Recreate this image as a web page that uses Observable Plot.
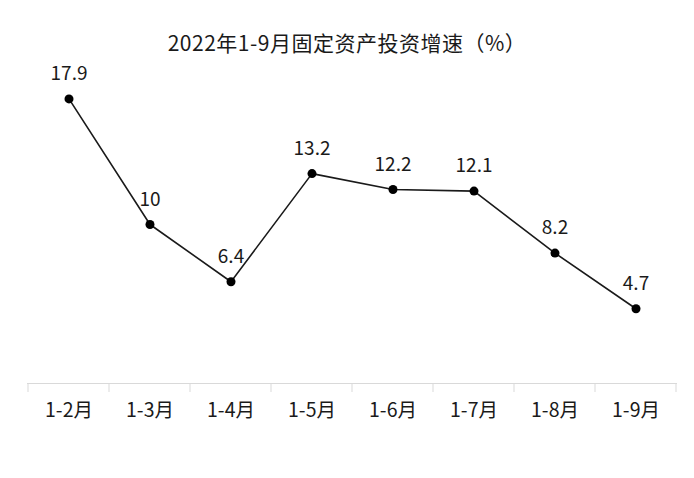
<!DOCTYPE html>
<html><head><meta charset="utf-8">
<script src="https://cdn.jsdelivr.net/npm/d3@7"></script>
<script src="https://cdn.jsdelivr.net/npm/@observablehq/plot@0.6"></script>
<style>
html,body{margin:0;padding:0;background:#fff;}
#wrap{position:relative;width:694px;height:478px;}
#title{position:absolute;left:0;top:29px;width:694px;text-align:center;font-family:"Noto Sans CJK SC",sans-serif;font-size:21px;color:#1a1a1a;line-height:26px;letter-spacing:0.5px;}
</style></head>
<body>
<div id="wrap"><div id="title">2022年1-9月固定资产投资增速（%）</div><div id="chart"></div></div>
<script>
const categories = ["1-2月","1-3月","1-4月","1-5月","1-6月","1-7月","1-8月","1-9月"];
const values = [17.9, 10, 6.4, 13.2, 12.2, 12.1, 8.2, 4.7];
const labels = ["17.9","10","6.4","13.2","12.2","12.1","8.2","4.7"];
const data = categories.map((c,i)=>({cat:c, v:values[i], label:labels[i]}));
const font = '"Noto Sans CJK SC", sans-serif';
const plot = Plot.plot({
  width: 694, height: 478,
  marginLeft: 27, marginRight: 17, marginTop: 65, marginBottom: 95,
  style: {fontFamily: font, background: "#fff"},
  x: {type: "band", domain: categories, padding: 0, axis: null},
  y: {domain: [0, 20], axis: null},
  marks: [
    Plot.ruleY([0], {stroke: "#d9d9d9", strokeWidth: 1}),
    Plot.line(data, {x: "cat", y: "v", stroke: "#1a1a1a", strokeWidth: 1.6}),
    Plot.dot(data, {x: "cat", y: "v", r: 4.5, fill: "#000", stroke: "none"}),
    Plot.text(data, {x: "cat", y: "v", text: "label", dy: -25, lineAnchor: "middle", fontSize: 19, fill: "#1a1a1a"}),
    Plot.text(data, {x: "cat", text: "cat", frameAnchor: "bottom", dy: 27, lineAnchor: "middle", fontSize: 19.5, fill: "#1a1a1a"})
  ]
});
document.getElementById("chart").appendChild(plot);
const xs = plot.scale("x"), ys = plot.scale("y");
const y0 = ys.apply(0);
const edges = categories.map(c => xs.apply(c)).concat([xs.apply(categories[categories.length-1]) + xs.bandwidth]);
d3.select(plot).append("g").selectAll("line").data(edges).join("line")
  .attr("x1", d=>d).attr("x2", d=>d).attr("y1", y0).attr("y2", y0+9)
  .attr("stroke", "#d9d9d9").attr("stroke-width", 1);
</script>
</body></html>
